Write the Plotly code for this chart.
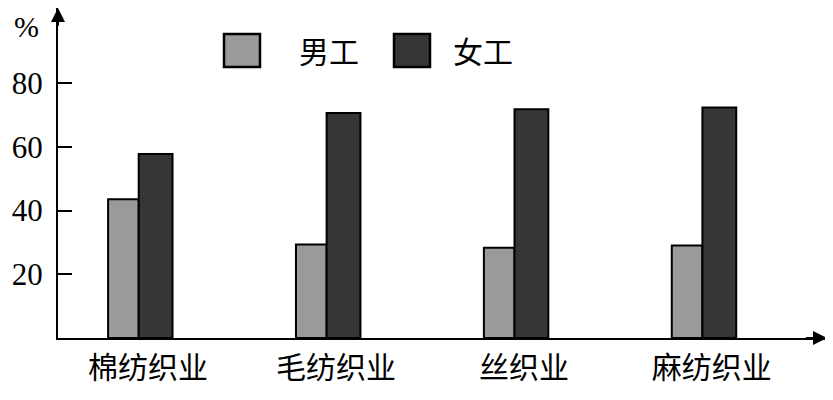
import plotly.graph_objects as go

categories = ["棉纺织业", "毛纺织业", "丝织业", "麻纺织业"]
series_names = ["男工", "女工"]
male = [43.5, 29.3, 28.3, 29.0]
female = [57.7, 70.6, 71.8, 72.3]
y_ticks = [20, 40, 60, 80]
y_unit = "%"

# page has an 8px body margin; figure is sized to fit the 833x400 window
OFF = 8
W, H = 833 - OFF, 400 - OFF
ML, MR, MT, MB = 50, 6, 0, 62
PW, PH = W - ML - MR, H - MT - MB

def px2paper(x, y):
    # x, y are page pixel positions
    x -= OFF
    y -= OFF
    return (x - ML) / PW, (H - MB - y) / PH

colors = ["#9a9a9a", "#363636"]
serif = "Liberation Serif"
cjk = "Noto Sans CJK SC"

xs = list(range(len(categories)))
XMIN, XMAX = -0.4295, 3.663
YMAX = PH / 3.1875

fig = go.Figure()
fig.add_trace(go.Bar(x=xs, y=male, name=series_names[0], width=0.163, offset=-0.163,
                     marker=dict(color=colors[0], line=dict(color="black", width=2)),
                     showlegend=False))
fig.add_trace(go.Bar(x=xs, y=female, name=series_names[1], width=0.18, offset=0,
                     marker=dict(color=colors[1], line=dict(color="black", width=2)),
                     showlegend=False))

fig.update_layout(
    width=W, height=H,
    margin=dict(l=ML, r=MR, t=MT, b=MB, pad=0, autoexpand=False),
    plot_bgcolor="white", paper_bgcolor="white",
    barmode="overlay",
    xaxis=dict(range=[XMIN, XMAX], showgrid=False, zeroline=False, automargin=False,
               showline=True, linecolor="black", linewidth=2,
               tickvals=[x + 0.05 for x in xs], ticktext=categories,
               ticks="", ticklabelstandoff=2,
               tickfont=dict(family=cjk, size=30, color="black")),
    yaxis=dict(range=[0, YMAX], showgrid=False, zeroline=False, automargin=False,
               showline=True, linecolor="black", linewidth=2,
               tickvals=y_ticks, ticks="inside", ticklen=14, tickwidth=2, tickcolor="black",
               ticklabelstandoff=7,
               tickfont=dict(family=serif, size=31, color="black")),
)

# axis arrowheads
fig.add_annotation(x=XMAX, y=0, ax=XMAX - 0.12, ay=0, xref="x", yref="y", axref="x", ayref="y",
                   showarrow=True, arrowhead=2, arrowsize=1.4, arrowwidth=2, arrowcolor="black", text="")
fig.add_annotation(x=XMIN, y=YMAX, ax=XMIN, ay=YMAX - 6, xref="x", yref="y", axref="x", ayref="y",
                   showarrow=True, arrowhead=2, arrowsize=1.4, arrowwidth=2, arrowcolor="black", text="")

# unit label
ux, uy = px2paper(26, 26)
fig.add_annotation(x=ux, y=uy, xref="paper", yref="paper", text=y_unit, showarrow=False,
                   font=dict(family=serif, size=30, color="black"), xanchor="center", yanchor="middle")

# legend (manual)
legend_boxes = [(224, 260), (394, 430)]
legend_text_x = [297, 451]
for (x0, x1), tx, name, c in zip(legend_boxes, legend_text_x, series_names, colors):
    px0, py0 = px2paper(x0, 67)
    px1, py1 = px2paper(x1, 34)
    fig.add_shape(type="rect", xref="paper", yref="paper", x0=px0, y0=py0, x1=px1, y1=py1,
                  fillcolor=c, line=dict(color="black", width=2.5))
    tpx, tpy = px2paper(tx, 50)
    fig.add_annotation(x=tpx, y=tpy, xref="paper", yref="paper", text=name, showarrow=False,
                       xanchor="left", yanchor="middle",
                       font=dict(family=cjk, size=30, color="black"))

fig.write_html("out.html")
